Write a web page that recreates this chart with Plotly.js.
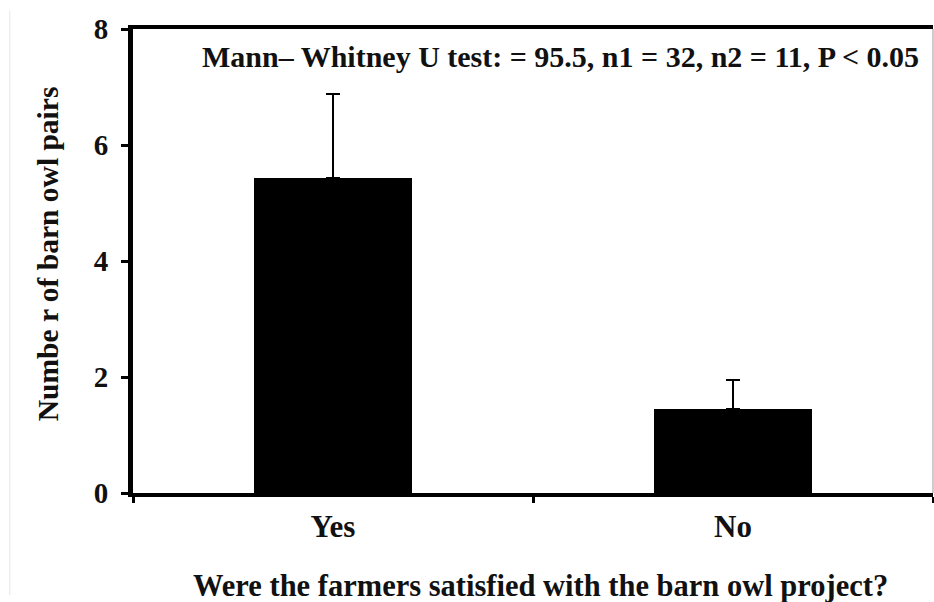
<!DOCTYPE html>
<html>
<head>
<meta charset="utf-8">
<script src="https://cdn.plot.ly/plotly-3.0.1.min.js"></script>
<style>html,body{margin:0;padding:0;background:#fff;}#chart{width:934px;height:602px;}</style>
</head>
<body>
<div id="chart"></div>
<script>
const categories = ["Yes", "No"];
const meanPairs = [5.43, 1.45];
const errorUpper = [1.45, 0.5];
const yTicks = [0, 2, 4, 6, 8];
const statText = "Mann\u2013 Whitney U test: = 95.5, n1 = 32, n2 = 11, P < 0.05";
const xTitle = "Were the farmers satisfied with the barn owl project?";
const yTitle = "Numbe r of barn owl pairs";

const font = "'Liberation Serif', 'Times New Roman', Times, serif";

const trace = {
  type: "bar",
  x: categories,
  y: meanPairs,
  width: 0.395,
  marker: {color: "#000"},
  error_y: {type: "data", symmetric: false, array: errorUpper, arrayminus: [0, 0],
            color: "#000", thickness: 2, width: 7},
  hoverinfo: "skip"
};

const layout = {
  width: 934, height: 602,
  margin: {l: 133, r: 1, t: 29, b: 109},
  paper_bgcolor: "#fff", plot_bgcolor: "#fff",
  showlegend: false,
  font: {family: font, color: "#111"},
  xaxis: {
    type: "category",
    range: [-0.5, 1.5],
    showline: true, linecolor: "#000", linewidth: 4, mirror: true,
    ticks: "outside", tickson: "boundaries", ticklen: 6, tickwidth: 3, tickcolor: "#000",
    ticklabelstandoff: 3,
    showgrid: false, zeroline: false,
    tickfont: {family: font, size: 31, color: "#111", weight: "bold"}
  },
  yaxis: {
    range: [0, 8],
    tickvals: yTicks,
    ticktext: yTicks.map(String),
    showline: true, linecolor: "#000", linewidth: 5, mirror: false,
    ticks: "outside", ticklen: 7, tickwidth: 3, tickcolor: "#000",
    ticklabelstandoff: 7,
    showgrid: false, zeroline: false,
    tickfont: {family: font, size: 29, color: "#111", weight: "bold"}
  },
  annotations: [
    {xref: "paper", yref: "paper", x: 0.084, y: 0.94,
     xanchor: "left", yanchor: "middle", showarrow: false,
     text: statText.replace("<", "&lt;"),
     font: {family: font, size: 30, color: "#111", weight: "bold"}},
    {xref: "paper", yref: "paper", x: 0.509, y: -0.2, xanchor: "center", yanchor: "middle",
     showarrow: false, text: xTitle,
     font: {family: font, size: 30.5, color: "#111", weight: "bold"}},
    {xref: "paper", yref: "paper", x: -0.106, y: 0.515, xanchor: "center", yanchor: "middle",
     showarrow: false, textangle: -90, text: yTitle,
     font: {family: font, size: 29.5, color: "#111", weight: "bold"}}
  ],
  shapes: [
    {type: "line", xref: "paper", yref: "paper", x0: 1, x1: 1, y0: 0, y1: 1,
     line: {color: "#999", width: 1}},
    {type: "line", xref: "paper", yref: "paper", x0: -0.154, x1: -0.154, y0: -0.22, y1: 1.04,
     line: {color: "#e6e6e6", width: 1}}
  ]
};

Plotly.newPlot("chart", [trace], layout, {displayModeBar: false, staticPlot: true});
</script>
</body>
</html>
